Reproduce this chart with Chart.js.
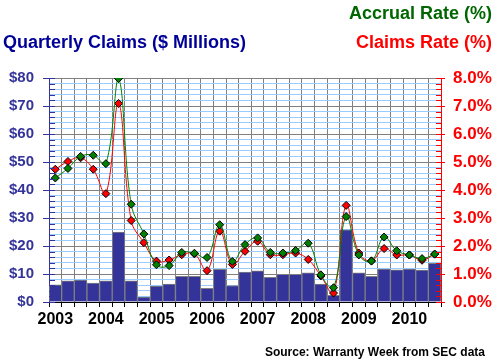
<!DOCTYPE html>
<html>
<head>
<script src="https://cdn.jsdelivr.net/npm/chart.js@4.4.0/dist/chart.umd.min.js"></script>
<title>Quarterly Claims</title>
<style>
    body { margin: 0; background: #fff; }
    #wrap { position: relative; width: 498px; height: 363px; }
    .lbl { position: absolute; font-family: 'Liberation Sans', Arial, sans-serif; font-weight: bold; white-space: nowrap; }
</style>
</head>
<body>
<div id="wrap">
    <canvas id="myChart" width="498" height="363"></canvas>
    <div class="lbl" style="right:6px; top:4px; font-size:18px; line-height:18px; color:#006600;">Accrual Rate (%)</div>
    <div class="lbl" style="right:6px; top:33px; font-size:18px; line-height:18px; color:#ff0000;">Claims Rate (%)</div>
    <div class="lbl" style="left:3px; top:33px; font-size:18px; line-height:18px; color:#000099;">Quarterly Claims ($ Millions)</div>
    <div class="lbl" style="right:13px; top:346px; font-size:12px; line-height:12px; color:#000;">Source: Warranty Week from SEC data</div>
</div>

<script>
    var quarters = [
        '2003 Q1', '2003 Q2', '2003 Q3', '2003 Q4',
        '2004 Q1', '2004 Q2', '2004 Q3', '2004 Q4',
        '2005 Q1', '2005 Q2', '2005 Q3', '2005 Q4',
        '2006 Q1', '2006 Q2', '2006 Q3', '2006 Q4',
        '2007 Q1', '2007 Q2', '2007 Q3', '2007 Q4',
        '2008 Q1', '2008 Q2', '2008 Q3', '2008 Q4',
        '2009 Q1', '2009 Q2', '2009 Q3', '2009 Q4',
        '2010 Q1', '2010 Q2', '2010 Q3'
    ];
    // $ millions
    var claims = [6.1, 7.6, 7.8, 6.8, 7.6, 25.0, 7.6, 1.8, 5.7, 6.4, 9.2, 9.2, 4.9, 11.7, 5.9, 10.7,
                  11.1, 8.8, 9.9, 9.9, 10.4, 6.4, 2.4, 25.8, 10.4, 9.2, 11.8, 11.5, 11.8, 11.4, 13.8];
    // percent
    var claimsRate = [4.74, 5.02, 5.15, 4.74, 3.87, 7.09, 2.91, 2.12, 1.46, 1.50, 1.69, 1.72, 1.12, 2.53, 1.34, 1.81,
                      2.17, 1.69, 1.69, 1.75, 1.52, 0.93, 0.32, 3.45, 1.75, 1.47, 1.91, 1.68, 1.68, 1.49, 1.71];
    var accrualRate = [4.43, 4.77, 5.20, 5.24, 4.94, 7.98, 3.49, 2.43, 1.33, 1.30, 1.77, 1.74, 1.59, 2.76, 1.45, 2.05,
                       2.29, 1.77, 1.75, 1.84, 2.10, 0.97, 0.51, 3.05, 1.68, 1.46, 2.32, 1.83, 1.68, 1.55, 1.71];

    var FONT = "'Liberation Sans', Arial, sans-serif";

    // short tick marks drawn inside the plot on both y axes
    var innerTicks = {
        id: 'innerTicks',
        afterDraw: function(chart) {
            var ctx = chart.ctx;
            ctx.save();
            ctx.lineWidth = 1;
            var y = chart.scales.y;
            ctx.strokeStyle = '#333399';
            y.ticks.forEach(function(t) {
                var py = Math.round(y.getPixelForValue(t.value)) + 0.5;
                ctx.beginPath(); ctx.moveTo(y.right, py); ctx.lineTo(y.right + 6, py); ctx.stroke();
            });
            var y1 = chart.scales.y1;
            ctx.strokeStyle = '#ff0000';
            y1.ticks.forEach(function(t) {
                var py = Math.round(y1.getPixelForValue(t.value)) + 0.5;
                ctx.beginPath(); ctx.moveTo(y1.left - 5, py); ctx.lineTo(y1.left, py); ctx.stroke();
            });
            ctx.restore();
        }
    };

    var ctx = document.getElementById('myChart').getContext('2d');
    var myChart = new Chart(ctx, {
        type: 'bar',
        data: {
            labels: quarters,
            datasets: [
                {
                    type: 'line',
                    label: 'Accrual Rate (%)',
                    data: accrualRate,
                    yAxisID: 'y1',
                    borderColor: '#008000',
                    borderWidth: 1,
                    tension: 0.4,
                    pointStyle: 'rectRot',
                    pointRadius: 4,
                    pointBackgroundColor: '#008000',
                    pointBorderColor: '#000000',
                    pointBorderWidth: 1,
                    order: 1
                },
                {
                    type: 'line',
                    label: 'Claims Rate (%)',
                    data: claimsRate,
                    yAxisID: 'y1',
                    borderColor: '#ff0000',
                    borderWidth: 1,
                    tension: 0.4,
                    pointStyle: 'rectRot',
                    pointRadius: 4,
                    pointBackgroundColor: '#ff0000',
                    pointBorderColor: '#000000',
                    pointBorderWidth: 1,
                    order: 2
                },
                {
                    label: 'Quarterly Claims ($ Millions)',
                    data: claims,
                    yAxisID: 'y',
                    backgroundColor: '#333399',
                    borderColor: '#808080',
                    borderWidth: 1,
                    barPercentage: 1,
                    categoryPercentage: 1,
                    order: 3
                }
            ]
        },
        options: {
            responsive: false,
            animation: false,
            layout: { padding: { top: 78, left: 0, right: 0, bottom: 0 } },
            plugins: {
                legend: { display: false },
                tooltip: { enabled: false },
                title: { display: false }
            },
            scales: {
                x: {
                    offset: true,
                    grid: { offset: true, color: '#808080', tickColor: '#000000', tickLength: 5 },
                    border: { color: '#000000' },
                    ticks: {
                        autoSkip: false,
                        maxRotation: 0,
                        padding: 3,
                        color: '#000000',
                        font: { family: FONT, size: 16, weight: 'bold' },
                        callback: function(v, i) {
                            var q = quarters[i];
                            return q.slice(5) === 'Q1' ? q.slice(0, 4) : '';
                        }
                    },
                    afterFit: function(s) { s.height = 61; }
                },
                y: {
                    position: 'left',
                    min: 0,
                    max: 80,
                    grid: {
                        color: function(c) { return c.tick && c.tick.value % 10 === 0 ? '#808080' : '#99ccff'; },
                        tickColor: function(c) { return c.tick && c.tick.value % 10 === 0 ? '#333399' : 'rgba(0,0,0,0)'; },
                        tickLength: 6
                    },
                    border: { color: '#333399' },
                    ticks: {
                        stepSize: 2,
                        autoSkip: false,
                        padding: 9,
                        color: '#333399',
                        font: { family: FONT, size: 15, weight: 'bold' },
                        callback: function(v) { return v % 10 === 0 ? '$' + v : ''; }
                    },
                    afterFit: function(s) { s.width = 49; }
                },
                y1: {
                    position: 'right',
                    min: 0,
                    max: 8,
                    grid: {
                        drawOnChartArea: false,
                        tickColor: function(c) {
                            return c.tick && Math.abs(c.tick.value - Math.round(c.tick.value)) < 1e-6 ? '#ff0000' : 'rgba(0,0,0,0)';
                        },
                        tickLength: 4
                    },
                    border: { color: '#ff0000' },
                    ticks: {
                        stepSize: 0.2,
                        autoSkip: false,
                        padding: 8,
                        color: '#ff0000',
                        font: { family: FONT, size: 17, weight: 'bold' },
                        callback: function(v) {
                            return Math.abs(v - Math.round(v)) < 1e-6 ? v.toFixed(1) + '%' : '';
                        }
                    },
                    afterFit: function(s) { s.width = 57; }
                }
            }
        },
        plugins: [innerTicks]
    });
</script>
</body>
</html>
